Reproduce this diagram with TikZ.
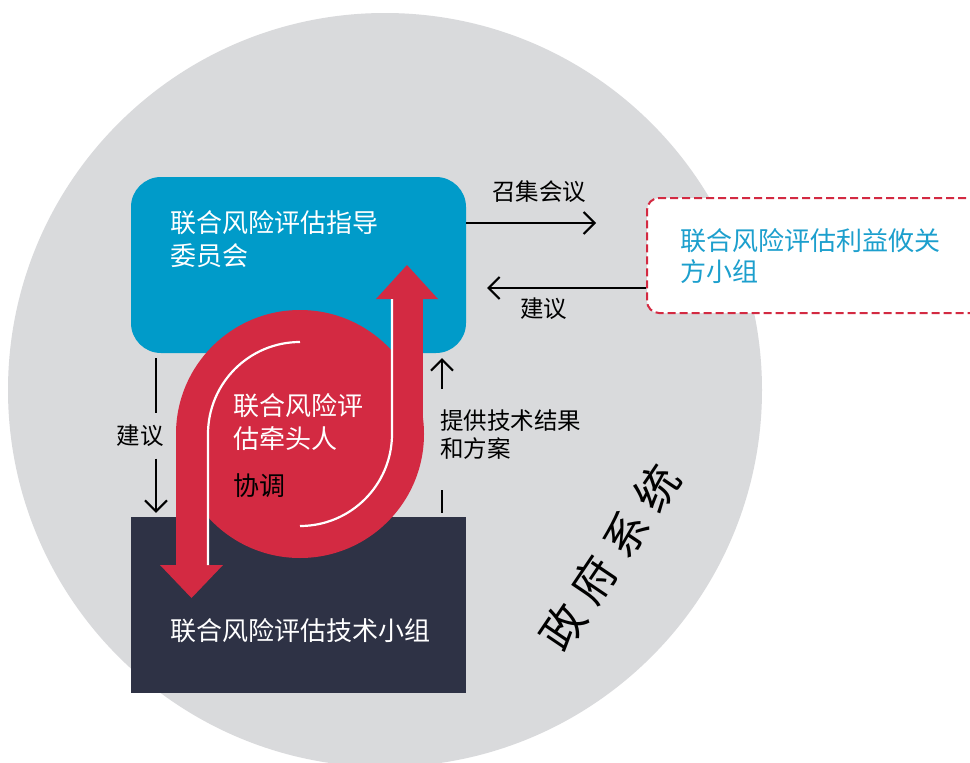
\documentclass[tikz,border=0pt]{standalone}
\usepackage{fontspec}
\setmainfont{Noto Sans CJK SC}
\usetikzlibrary{arrows.meta}
\definecolor{bggray}{HTML}{D9DADC}
\definecolor{steerblue}{HTML}{009BC9}
\definecolor{techdark}{HTML}{2E3245}
\definecolor{leadred}{HTML}{D32A42}
\definecolor{stakeblue}{HTML}{1C9FCD}
\tikzset{
  conn/.style={line width=2pt, draw=black},
  arr/.style={conn, -{Straight Barb[length=11pt,width=22pt,line width=2pt]}},
  bigtxt/.style={font=\fontsize{26}{33}\selectfont},
  smalltxt/.style={font=\fontsize{23.5}{28}\selectfont},
  txt/.style={anchor=base west, inner sep=0pt, align=left},
  whiteline/.style={draw=white, line width=2.2pt},
}
\begin{document}
\begin{tikzpicture}[x=1pt,y=-1pt]
\useasboundingbox (0,0) rectangle (970,763);
\clip (0,0) rectangle (970,763);
\fill[white] (0,0) rectangle (970,763);
\fill[bggray] (385,390) circle[radius=377];

% boxes
\node[fill=steerblue, rounded corners=30pt, minimum width=335pt, minimum height=176pt, inner sep=0pt] (steer) at (298.5,265) {};
\node[fill=techdark, minimum width=335pt, minimum height=176pt, inner sep=0pt] (tech) at (298.5,605) {};
\node[draw=leadred, fill=white, line width=2pt, dash pattern=on 8pt off 4pt, rounded corners=12pt, minimum width=343pt, minimum height=115pt, inner sep=0pt] (stake) at (818.5,255.5) {};

% red lead shape
\fill[leadred] (300,434) circle[radius=124];
\fill[leadred] (176,434) rectangle (208,566);
\fill[leadred] (160,565) -- (223,565) -- (191.5,598) -- cycle;
\fill[leadred] (391,298) rectangle (423,434);
\fill[leadred] (376,299) -- (438,299) -- (407,265) -- cycle;
\draw[whiteline] (208,565) -- (208,434) arc[start angle=180, end angle=270, radius=92];
\draw[whiteline] (392,299) -- (392,434) arc[start angle=0, end angle=90, radius=92];

% texts (anchor base = baseline of the last line)
\node[txt, bigtxt, text=white] (steertxt) at (170,265) {联合风险评估指导\\委员会};
\node[txt, bigtxt, text=white] (techtxt) at (170,640) {联合风险评估技术小组};
\node[txt, font=\fontsize{26}{31}\selectfont, text=stakeblue] (staketxt) at (680,281) {联合风险评估利益攸关\\方小组};
\node[txt, bigtxt, text=white] (leadtxt) at (233,448) {联合风险评\\估牵头人};
\node[txt, bigtxt, text=black] (coord) at (233,495) {协调};

% connectors
\coordinate (ytop) at (0,223);
\coordinate (ybot) at (0,288);
\coordinate (call) at (596,223);
\coordinate (lx) at (156,0);
\coordinate (rx) at (442,0);
\coordinate (rlow) at (442,490);

\draw[arr] (steer.east |- ytop) -- (call);
\node[txt, smalltxt] (calltxt) at (492,200) {召集会议};
\draw[arr, shorten >=21pt] (stake.west |- ybot) -- (steer.east |- ybot);
\node[txt, smalltxt] (adv2) at (520,317) {建议};

\node[smalltxt, inner sep=0pt, minimum height=45pt] (adv1) at (140,436) {建议};
\draw[conn, shorten <=5pt] (steer.south -| lx) -- (adv1.north -| lx);
\draw[arr, shorten >=4pt] (adv1.south -| lx) -- (tech.north -| lx);

\node[txt, smalltxt] (res) at (440,457) {提供技术结果\\和方案};
\draw[arr, shorten <=20pt, shorten >=5pt] (res.north -| rx) -- (steer.south -| rx);
\draw[conn, shorten <=4pt] (tech.north -| rx) -- (rlow);

\node[rotate=56, inner sep=0pt, font=\fontsize{44}{44}\selectfont] (gov) at (610,557) {政\hspace{12pt}府\hspace{12pt}系\hspace{12pt}统};
\end{tikzpicture}
\end{document}
